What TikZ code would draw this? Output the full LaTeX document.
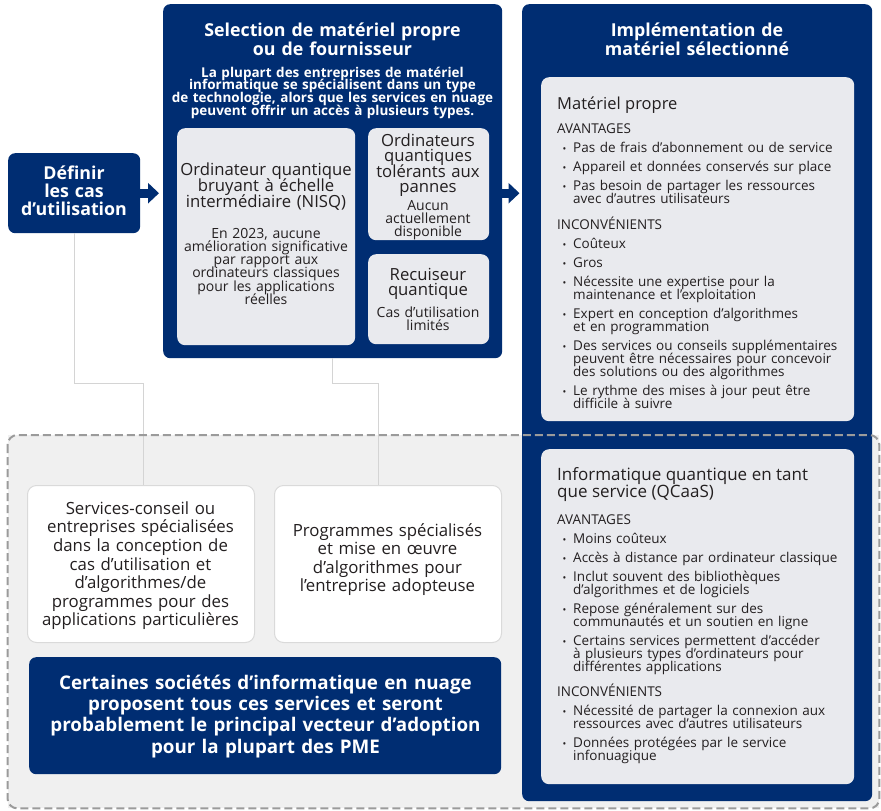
\documentclass[tikz,border=0pt]{standalone}
\usepackage{fontspec}
\setmainfont{Open Sans}
\usetikzlibrary{arrows.meta}
\definecolor{navy}{RGB}{0,45,114}
\definecolor{pale}{RGB}{233,234,238}
\definecolor{zonegray}{RGB}{240,240,240}
\definecolor{dashgray}{RGB}{155,155,155}
\definecolor{linkgray}{RGB}{212,212,212}
\definecolor{boxedge}{RGB}{218,218,218}
\definecolor{ink}{RGB}{35,31,32}
\newcommand\puce[1]{\par\vspace{6pt}\hangindent=16pt\hangafter=1\noindent
  \makebox[16pt][l]{\hspace{5.5pt}{\fontsize{10}{10}\selectfont\textbullet}}#1\par}
\begin{document}
\begin{tikzpicture}[x=1pt, y=-1pt,
    dims/.style 2 args={minimum width=#1pt, minimum height=#2pt},
    zonebox/.style={rectangle, anchor=north west, inner sep=0pt, fill=zonegray},
    navybox/.style={rectangle, anchor=north west, inner sep=0pt, fill=navy, rounded corners=7pt},
    palebox/.style={rectangle, anchor=north west, inner sep=0pt, fill=pale, rounded corners=8pt},
    whitebox/.style={rectangle, anchor=north west, inner sep=0pt, fill=white, draw=boxedge, line width=1pt, rounded corners=9pt},
    fixedlines/.style={execute at begin node={\lineskiplimit=-100pt\lineskip=0pt}},
    centred/.style={fixedlines, inner sep=0pt, anchor=base, text width=460pt, align=center},
    navytitle/.style={centred, text=white, font=\bfseries\fontsize{17.8}{18.3}\selectfont},
    navysub/.style={centred, text=white, font=\bfseries\fontsize{13.5}{12.8}\selectfont},
    boxtitle/.style={centred, text=ink, font=\fontsize{16.7}{16.2}\selectfont},
    boxbody/.style={centred, text=ink, font=\fontsize{14}{12.8}\selectfont},
    listtext/.style={fixedlines, inner sep=0pt, anchor=base west, text width=300pt, align=left, text=ink, font=\fontsize{13.5}{13}\selectfont},
    link/.style={linkgray, line width=1pt},
    fleche/.style={navy, line width=9pt, -{Triangle[length=11pt, width=20pt]}},
    zoneline/.style={dashgray, line width=2pt, dash pattern=on 8pt off 4pt, rounded corners=10pt}]
  \useasboundingbox (0,0) rectangle (881,811);
  \node[zonebox, dims={871.5}{373}] (zone) at (7.5,435) {};

  \node[navybox, dims={132}{80}] (definir) at (8,153) {};
  \node[navybox, dims={339}{354}] (mid) at (163,4) {};
  \node[navybox, dims={350}{797}] (impl) at (522,4) {};

  \node[palebox, dims={178}{217}] (nisq) at (177,128) {};
  \node[palebox, dims={121}{112}] (tolerant) at (368,128) {};
  \node[palebox, dims={121}{90}] (recuiseur) at (368,254) {};
  \node[palebox, dims={313}{344}] (propre) at (541,77) {};
  \node[palebox, dims={313}{335}] (qcaas) at (541,449) {};

  \node[whitebox, dims={227}{157}] (conseil) at (27,485) {};
  \node[whitebox, dims={227}{157}] (programmes) at (274,485) {};
  \node[navybox, dims={472}{117}] (nuage) at (29,657) {};

  \node[navytitle, font=\bfseries\fontsize{17.8}{18}\selectfont] (definirtxt) at (74,179.3) {Définir\\les cas\\d’utilisation};
  \node[navytitle] (midtxt) at (332.5,36.7) {Selection de matériel propre\\ou de fournisseur};
  \node[navysub] (midsub) at (332.5,77) {La plupart des entreprises de matériel\\informatique se spécialisent dans un type\\de technologie, alors que les services en nuage\\peuvent offrir un accès à plusieurs types.};
  \node[navytitle] (impltxt) at (697,36.7) {Implémentation de\\matériel sélectionné};

  \node[boxtitle] (nisqtxt) at (266,175) {Ordinateur quantique\\bruyant à échelle\\intermédiaire (NISQ)};
  \node[boxbody, font=\fontsize{14}{13.2}\selectfont] (nisqsub) at (266,238.3) {En 2023, aucune\\amélioration significative\\par rapport aux\\ordinateurs classiques\\pour les applications\\réelles};
  \node[boxtitle, font=\fontsize{16.7}{15.6}\selectfont] (toleranttxt) at (428,146) {Ordinateurs\\quantiques\\tolérants aux\\pannes};
  \node[boxbody, font=\fontsize{14}{12.7}\selectfont] (tolerantsub) at (428,210.7) {Aucun\\actuellement\\disponible};
  \node[boxtitle, font=\fontsize{16.7}{15.7}\selectfont] (recuiseurtxt) at (428,280) {Recuiseur\\quantique};
  \node[boxbody] (recuiseursub) at (428,317.3) {Cas d’utilisation\\limités};

  \node[listtext] (propretxt) at (557,109.3) {%
    {\fontsize{16.5}{16.5}\selectfont Matériel propre\par}\vspace{11.2pt}
    \noindent AVANTAGES\par
    \puce{Pas de frais d’abonnement ou de service}
    \puce{Appareil et données conservés sur place}
    \puce{Pas besoin de partager les ressources\newline avec d’autres utilisateurs}
    \vspace{13pt}\noindent INCONVÉNIENTS\par
    \puce{Coûteux}
    \puce{Gros}
    \puce{Nécessite une expertise pour la\newline maintenance et l’exploitation}
    \puce{Expert en conception d’algorithmes\newline et en programmation}
    \puce{Des services ou conseils supplémentaires\newline peuvent être nécessaires pour concevoir\newline des solutions ou des algorithmes}
    \puce{Le rythme des mises à jour peut être\newline difficile à suivre}};
  \node[listtext] (qcaastxt) at (557,480.8) {%
    {\fontsize{17}{16.5}\selectfont Informatique quantique en tant\\que service (QCaaS)\par}\vspace{13.8pt}
    \noindent AVANTAGES\par
    \puce{Moins coûteux}
    \puce{Accès à distance par ordinateur classique}
    \puce{Inclut souvent des bibliothèques\newline d’algorithmes et de logiciels}
    \puce{Repose généralement sur des\newline communautés et un soutien en ligne}
    \puce{Certains services permettent d’accéder\newline à plusieurs types d’ordinateurs pour\newline différentes applications}
    \vspace{12.2pt}\noindent INCONVÉNIENTS\par
    \puce{Nécessité de partager la connexion aux\newline ressources avec d’autres utilisateurs}
    \puce{Données protégées par le service\newline infonuagique}};

  \node[boxtitle, font=\fontsize{16.8}{18.6}\selectfont] (conseiltxt) at (140.5,514.3) {Services-conseil ou\\entreprises spécialisées\\dans la conception de\\cas d’utilisation et\\d’algorithmes/de\\programmes pour des\\applications particulières};
  \node[boxtitle, font=\fontsize{16.8}{18.6}\selectfont] (programmestxt) at (387.5,536) {Programmes spécialisés\\et mise en œuvre\\d’algorithmes pour\\l’entreprise adopteuse};
  \node[navytitle, font=\bfseries\fontsize{18.8}{21.3}\selectfont] (nuagetxt) at (265.5,689.3) {Certaines sociétés d’informatique en nuage\\proposent tous ces services et seront\\probablement le principal vecteur d’adoption\\pour la plupart des PME};

  \draw[fleche, shorten >=4pt] (definir.east) -- (definir.east -| mid.west);
  \draw[fleche, shorten >=2.5pt] (mid.east |- definir.east) -- (definir.east -| impl.west);
  \draw[link] (definir.south) -- (definir.south |- 0,383) -| ([xshift=2.5pt]conseil.north);
  \draw[link] (mid.south) -- (mid.south |- 0,383) -| ([xshift=-9.5pt]programmes.north);
  \draw[zoneline] (zone.north west) rectangle (zone.south east);
\end{tikzpicture}
\end{document}
